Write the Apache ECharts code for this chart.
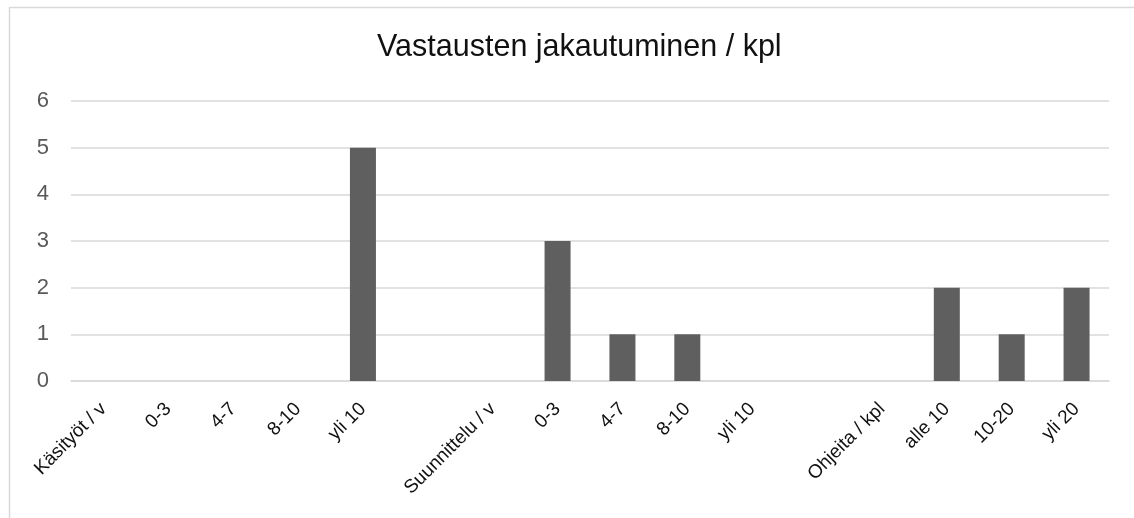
<!DOCTYPE html>
<html>
<head>
<meta charset="utf-8">
<script src="https://cdn.jsdelivr.net/npm/echarts@6/dist/echarts.min.js"></script>
<style>
  html, body { margin: 0; padding: 0; background: #fff; }
  #chart { width: 1134px; height: 518px; }
</style>
</head>
<body>
<div id="chart"></div>
<script>
// categories (empty strings are the gaps between groups)
var categories = ['Käsityöt / v', '0-3', '4-7', '8-10', 'yli 10', '',
    'Suunnittelu / v', '0-3', '4-7', '8-10', 'yli 10', '',
    'Ohjeita / kpl', 'alle 10', '10-20', 'yli 20'];
var counts = [null, 0, 0, 0, 5, null,
    null, 3, 1, 1, 0, null,
    null, 2, 1, 2];
var yTicks = { min: 0, max: 6, step: 1 };

var myChart = echarts.init(document.getElementById('chart'));

var option = {
    animation: false,
    textStyle: { fontFamily: '"Liberation Sans", Arial, sans-serif' },
    title: {
        text: 'Vastausten jakautuminen / kpl',
        left: 372, top: 27,
        textStyle: { fontSize: 30.5, fontWeight: 'normal', color: '#111' }
    },
    // chart frame, like the office chart border
    graphic: [{
        type: 'rect', left: 7, top: 5,
        shape: { width: 1200, height: 600 },
        style: { fill: 'none', stroke: '#d9d9d9', lineWidth: 1.5 }
    }],
    grid: { left: 71, right: 25, top: 101, bottom: 137, outerBoundsMode: 'none' },
    xAxis: {
        type: 'category',
        data: categories,
        axisLine: { show: true, lineStyle: { color: '#d9d9d9', width: 1.5 } },
        axisTick: { show: false },
        axisLabel: {
            interval: 0, rotate: 45, margin: 25,
            fontSize: 19, color: '#111'
        }
    },
    yAxis: {
        type: 'value',
        min: yTicks.min, max: yTicks.max, interval: yTicks.step,
        axisLine: { show: false },
        axisTick: { show: false },
        splitLine: { lineStyle: { color: '#d9d9d9', width: 1.5 } },
        axisLabel: { fontSize: 22, color: '#595959', margin: 22 }
    },
    series: [{
        type: 'bar',
        data: counts,
        barWidth: 26,
        itemStyle: { color: '#5f5f5f' }
    }]
};

myChart.setOption(option);
</script>
</body>
</html>
